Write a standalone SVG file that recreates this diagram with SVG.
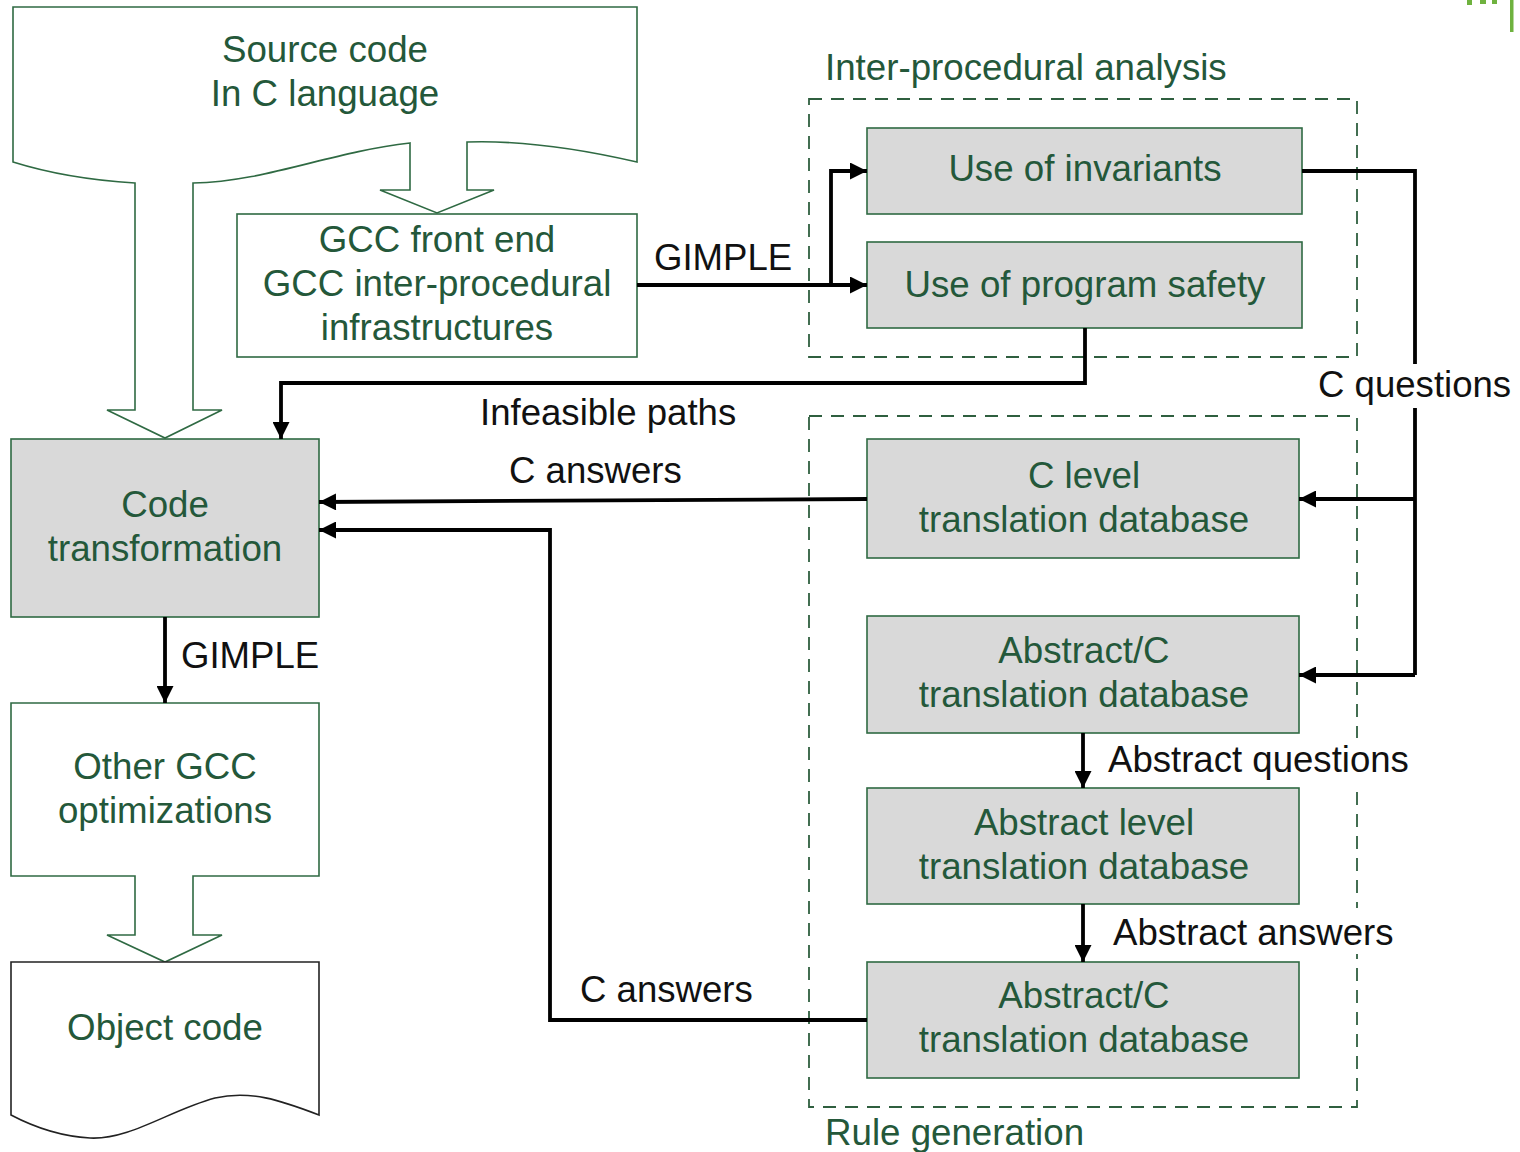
<svg xmlns="http://www.w3.org/2000/svg" width="1520" height="1152" viewBox="0 0 1520 1152">
<defs>
<style>
.g{font-family:"Liberation Sans",Arial,sans-serif;font-size:36.7px;fill:#24583a;text-anchor:middle}
.gl{font-family:"Liberation Sans",Arial,sans-serif;font-size:36.7px;fill:#24583a}
.k{font-family:"Liberation Sans",Arial,sans-serif;font-size:36.6px;fill:#111}
.box{fill:#d9d9d9;stroke:#2f6a43;stroke-width:1.6}
.wbox{fill:#fff;stroke:#2f6a43;stroke-width:1.6}
.dash{fill:none;stroke:#2f5f3f;stroke-width:1.8;stroke-dasharray:13 9}
.c{fill:none;stroke:#000;stroke-width:3.8}
.ca{fill:none;stroke:#000;stroke-width:3.8;marker-end:url(#ah)}
</style>
<marker id="ah" viewBox="0 0 10 10" refX="10" refY="5" markerWidth="21" markerHeight="17" markerUnits="userSpaceOnUse" orient="auto">
<path d="M0,0 L10,5 L0,10 z" fill="#000"/>
</marker>
</defs>
<rect width="1520" height="1152" fill="#fff"/>

<!-- corner fragment -->
<g id="corner">
<rect x="1510" y="0" width="3.5" height="32" fill="#6fb23f"/>
<rect x="1467" y="0" width="5" height="5" fill="#6fb23f"/>
<rect x="1480" y="0" width="6" height="4" fill="#6fb23f"/>
<rect x="1492" y="0" width="5" height="4" fill="#6fb23f"/>
</g>

<!-- groups -->
<g id="group-ipa">
<rect class="dash" x="809" y="99" width="548" height="258"/>
<text class="gl" x="825" y="80">Inter-procedural analysis</text>
</g>
<g id="group-rule">
<rect class="dash" x="809" y="416" width="548" height="691"/>
<text class="gl" x="825" y="1145">Rule generation</text>
</g>

<!-- nodes -->
<g id="source-code">
<path class="wbox" d="M13,7 H637 V162 C585,150 525,140 467,142 V190 H494 L437,213 L380,190 H410 V143 C330,152 265,182 193,183 V410 H222 L165,438 L107,410 H135 V183 C85,180 45,172 13,162 Z"/>
<text class="g" x="325" y="62">Source code</text>
<text class="g" x="325" y="106">In C language</text>
</g>

<g id="gcc-front-end">
<rect class="wbox" x="237" y="214" width="400" height="143"/>
<text class="g" x="437" y="252">GCC front end</text>
<text class="g" x="437" y="296">GCC inter-procedural</text>
<text class="g" x="437" y="340">infrastructures</text>
</g>

<g id="code-transformation">
<rect class="box" x="11" y="439" width="308" height="178"/>
<text class="g" x="165" y="517">Code</text>
<text class="g" x="165" y="561">transformation</text>
</g>

<g id="other-gcc">
<path class="wbox" d="M11,703 H319 V876 H193 V935 H222 L165,962 L107,935 H135 V876 H11 Z"/>
<text class="g" x="165" y="779">Other GCC</text>
<text class="g" x="165" y="823">optimizations</text>
</g>

<g id="object-code">
<path fill="#fff" stroke="#222" stroke-width="1.6" d="M11,962 H319 V1115 C280,1100 250,1090 215,1098 C170,1110 130,1140 90,1138 C55,1136 30,1125 11,1115 Z"/>
<text class="g" x="165" y="1040">Object code</text>
</g>

<g id="use-invariants">
<rect class="box" x="867" y="128" width="435" height="86"/>
<text class="g" x="1085" y="181">Use of invariants</text>
</g>

<g id="use-safety">
<rect class="box" x="867" y="242" width="435" height="86"/>
<text class="g" x="1085" y="297">Use of program safety</text>
</g>

<g id="c-level-db">
<rect class="box" x="867" y="439" width="432" height="119"/>
<text class="g" x="1084" y="488">C level</text>
<text class="g" x="1084" y="532">translation database</text>
</g>

<g id="abstract-c-db-1">
<rect class="box" x="867" y="616" width="432" height="117"/>
<text class="g" x="1084" y="663">Abstract/C</text>
<text class="g" x="1084" y="707">translation database</text>
</g>

<g id="abstract-level-db">
<rect class="box" x="867" y="788" width="432" height="116"/>
<text class="g" x="1084" y="835">Abstract level</text>
<text class="g" x="1084" y="879">translation database</text>
</g>

<g id="abstract-c-db-2">
<rect class="box" x="867" y="962" width="432" height="116"/>
<text class="g" x="1084" y="1008">Abstract/C</text>
<text class="g" x="1084" y="1052">translation database</text>
</g>

<!-- connectors -->
<g id="connectors">
<path class="ca" d="M637,285 H867"/>
<path class="ca" d="M831,285 V171 H867"/>
<text class="k" x="654" y="270">GIMPLE</text>

<path class="ca" d="M1085,328 V383 H281 V439"/>
<text class="k" x="480" y="425">Infeasible paths</text>

<path class="c" d="M1302,171 H1415 V675"/>
<path class="ca" d="M1415,499 H1299"/>
<path class="ca" d="M1415,675 H1299"/>
<rect x="1314" y="364" width="204" height="44" fill="#fff"/>
<text class="k" x="1318" y="397">C questions</text>

<path class="ca" d="M867,499 L319,502"/>
<text class="k" x="509" y="483">C answers</text>

<path class="ca" d="M867,1020 H550 V530 H319"/>
<text class="k" x="580" y="1002">C answers</text>

<path class="ca" d="M165,617 V703"/>
<text class="k" x="181" y="668">GIMPLE</text>

<path class="ca" d="M1083,733 V788"/>
<rect x="1104" y="738" width="310" height="45" fill="#fff"/>
<text class="k" x="1108" y="772">Abstract questions</text>

<path class="ca" d="M1083,904 V962"/>
<rect x="1108" y="908" width="290" height="46" fill="#fff"/>
<text class="k" x="1113" y="945">Abstract answers</text>
</g>
</svg>
